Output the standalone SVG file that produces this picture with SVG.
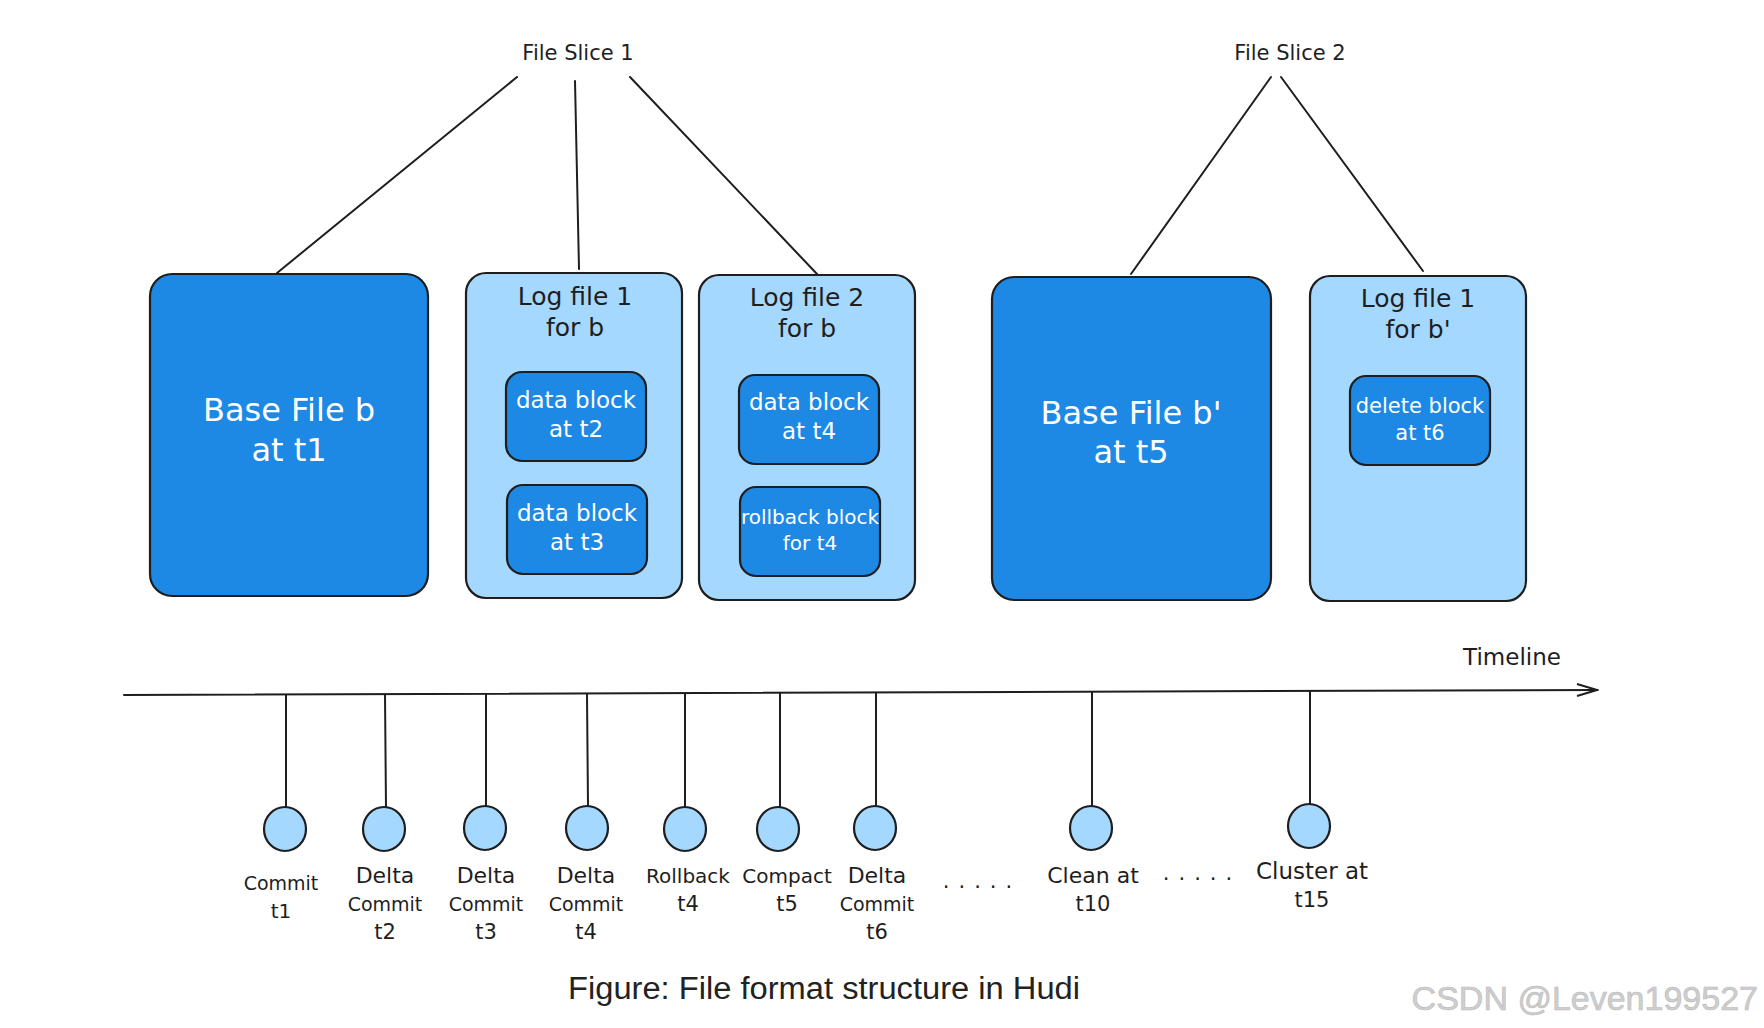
<svg xmlns="http://www.w3.org/2000/svg" width="1764" height="1028" viewBox="0 0 1764 1028">
<defs>
<style>
.dark{fill:#1e88e5;stroke:#1e1e1e;stroke-width:2.2}
.light{fill:#a5d8ff;stroke:#1e1e1e;stroke-width:2.2}
.ln{stroke:#1e1e1e;stroke-width:2;fill:none;stroke-linecap:round}
.t{font-family:"DejaVu Sans","Liberation Sans",sans-serif;text-anchor:middle}
.w{fill:#ffffff}
.k{fill:#1e1e1e}
.dot{fill:#a5d8ff;stroke:#1e1e1e;stroke-width:2.2}
</style>
<marker id="arr" markerWidth="24" markerHeight="16" refX="22" refY="8" orient="auto" markerUnits="userSpaceOnUse">
<path d="M2,2 L22,8 L2,14" fill="none" stroke="#1e1e1e" stroke-width="2"/>
</marker>
</defs>
<rect width="1764" height="1028" fill="#ffffff"/>

<g id="connectors">
<line class="ln" x1="517" y1="77" x2="277" y2="273"/>
<line class="ln" x1="575" y1="81" x2="579" y2="269"/>
<line class="ln" x1="630" y1="77" x2="817" y2="274"/>
<line class="ln" x1="1271" y1="77" x2="1131" y2="274"/>
<line class="ln" x1="1281" y1="77" x2="1423" y2="271"/>
<line class="ln" x1="124" y1="695" x2="1597" y2="690" stroke-width="2.6" marker-end="url(#arr)"/>
<line class="ln" x1="286" y1="695" x2="286" y2="807"/>
<line class="ln" x1="385" y1="695" x2="386" y2="808"/>
<line class="ln" x1="486" y1="694" x2="486" y2="806"/>
<line class="ln" x1="587" y1="694" x2="588" y2="806"/>
<line class="ln" x1="685" y1="694" x2="685" y2="807"/>
<line class="ln" x1="780" y1="693" x2="780" y2="807"/>
<line class="ln" x1="876" y1="693" x2="876" y2="806"/>
<line class="ln" x1="1092" y1="692" x2="1092" y2="806"/>
<line class="ln" x1="1310" y1="691" x2="1310" y2="804"/>
</g>

<g id="label-file-slice-1"><text class="t k" x="578" y="60" font-size="21">File Slice 1</text></g>
<g id="label-file-slice-2"><text class="t k" x="1290" y="60" font-size="21">File Slice 2</text></g>

<g id="base-file-b">
<rect class="dark" x="150" y="274" width="278" height="322" rx="22"/>
<text class="t w" x="289" y="421" font-size="32">Base File b</text>
<text class="t w" x="289" y="461" font-size="32">at t1</text>
</g>

<g id="log-file-1-b">
<rect class="light" x="466" y="273" width="216" height="325" rx="20"/>
<text class="t k" x="575" y="305" font-size="25">Log file 1</text>
<text class="t k" x="575" y="336" font-size="25">for b</text>
</g>
<g id="data-block-t2">
<rect class="dark" x="506" y="372" width="140" height="89" rx="16"/>
<text class="t w" x="576" y="408" font-size="23">data block</text>
<text class="t w" x="576" y="437" font-size="23">at t2</text>
</g>
<g id="data-block-t3">
<rect class="dark" x="507" y="485" width="140" height="89" rx="16"/>
<text class="t w" x="577" y="521" font-size="23">data block</text>
<text class="t w" x="577" y="550" font-size="23">at t3</text>
</g>

<g id="log-file-2-b">
<rect class="light" x="699" y="275" width="216" height="325" rx="20"/>
<text class="t k" x="807" y="306" font-size="25">Log file 2</text>
<text class="t k" x="807" y="337" font-size="25">for b</text>
</g>
<g id="data-block-t4">
<rect class="dark" x="739" y="375" width="140" height="89" rx="16"/>
<text class="t w" x="809" y="410" font-size="23">data block</text>
<text class="t w" x="809" y="439" font-size="23">at t4</text>
</g>
<g id="rollback-block-t4">
<rect class="dark" x="740" y="487" width="140" height="89" rx="16"/>
<text class="t w" x="810" y="524" font-size="20">rollback block</text>
<text class="t w" x="810" y="550" font-size="20">for t4</text>
</g>

<g id="base-file-b-prime">
<rect class="dark" x="992" y="277" width="279" height="323" rx="22"/>
<text class="t w" x="1131" y="424" font-size="32">Base File b'</text>
<text class="t w" x="1131" y="463" font-size="32">at t5</text>
</g>

<g id="log-file-1-b-prime">
<rect class="light" x="1310" y="276" width="216" height="325" rx="20"/>
<text class="t k" x="1418" y="307" font-size="25">Log file 1</text>
<text class="t k" x="1418" y="338" font-size="25">for b'</text>
</g>
<g id="delete-block-t6">
<rect class="dark" x="1350" y="376" width="140" height="89" rx="16"/>
<text class="t w" x="1420" y="413" font-size="21">delete block</text>
<text class="t w" x="1420" y="440" font-size="21">at t6</text>
</g>

<g id="timeline-label"><text class="t k" x="1512" y="665" font-size="23">Timeline</text></g>

<g id="ev-commit-t1">
<ellipse class="dot" cx="285" cy="829" rx="21" ry="22"/>
<text class="t k" x="281" y="890" font-size="19">Commit</text>
<text class="t k" x="281" y="918" font-size="20">t1</text>
</g>
<g id="ev-delta-t2">
<ellipse class="dot" cx="384" cy="829" rx="21" ry="22"/>
<text class="t k" x="385" y="883" font-size="22">Delta</text>
<text class="t k" x="385" y="911" font-size="19">Commit</text>
<text class="t k" x="385" y="939" font-size="21">t2</text>
</g>
<g id="ev-delta-t3">
<ellipse class="dot" cx="485" cy="828" rx="21" ry="22"/>
<text class="t k" x="486" y="883" font-size="22">Delta</text>
<text class="t k" x="486" y="911" font-size="19">Commit</text>
<text class="t k" x="486" y="939" font-size="21">t3</text>
</g>
<g id="ev-delta-t4">
<ellipse class="dot" cx="587" cy="828" rx="21" ry="22"/>
<text class="t k" x="586" y="883" font-size="22">Delta</text>
<text class="t k" x="586" y="911" font-size="19">Commit</text>
<text class="t k" x="586" y="939" font-size="21">t4</text>
</g>
<g id="ev-rollback-t4">
<ellipse class="dot" cx="685" cy="829" rx="21" ry="22"/>
<text class="t k" x="688" y="883" font-size="20">Rollback</text>
<text class="t k" x="688" y="911" font-size="21">t4</text>
</g>
<g id="ev-compact-t5">
<ellipse class="dot" cx="778" cy="829" rx="21" ry="22"/>
<text class="t k" x="787" y="883" font-size="20">Compact</text>
<text class="t k" x="787" y="911" font-size="21">t5</text>
</g>
<g id="ev-delta-t6">
<ellipse class="dot" cx="875" cy="828" rx="21" ry="22"/>
<text class="t k" x="877" y="883" font-size="22">Delta</text>
<text class="t k" x="877" y="911" font-size="19">Commit</text>
<text class="t k" x="877" y="939" font-size="21">t6</text>
</g>
<g id="dots-1"><text class="t k" x="982" y="888" font-size="21" letter-spacing="9">.....</text></g>
<g id="ev-clean-t10">
<ellipse class="dot" cx="1091" cy="828" rx="21" ry="22"/>
<text class="t k" x="1093" y="883" font-size="22">Clean at</text>
<text class="t k" x="1093" y="911" font-size="21">t10</text>
</g>
<g id="dots-2"><text class="t k" x="1202" y="880" font-size="21" letter-spacing="9">.....</text></g>
<g id="ev-cluster-t15">
<ellipse class="dot" cx="1309" cy="826" rx="21" ry="22"/>
<text class="t k" x="1312" y="879" font-size="23">Cluster at</text>
<text class="t k" x="1312" y="907" font-size="21">t15</text>
</g>

<g id="caption"><text x="824" y="999" font-family="'Liberation Sans',sans-serif" font-size="31" text-anchor="middle" textLength="512" lengthAdjust="spacingAndGlyphs" fill="#222222">Figure: File format structure in Hudi</text></g>
<g id="watermark"><text x="1758" y="1010" font-family="'Liberation Sans',sans-serif" font-size="34" text-anchor="end" fill="#cfcfcf" stroke="#b8b8b8" stroke-width="0.6">CSDN @Leven199527</text></g>
</svg>
